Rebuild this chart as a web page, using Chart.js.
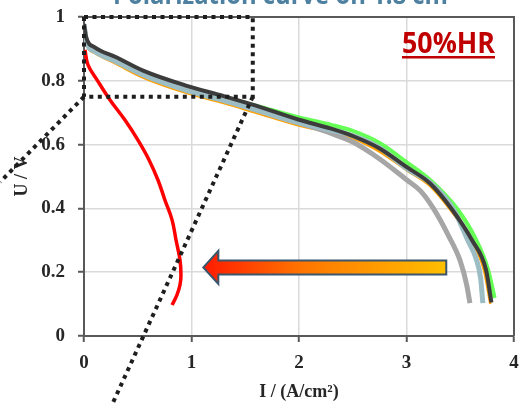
<!DOCTYPE html>
<html>
<head>
<meta charset="utf-8">
<script src="https://cdn.jsdelivr.net/npm/chart.js@4.4.1/dist/chart.umd.min.js"></script>
<style>
html, body { margin: 0; padding: 0; background: #fff; }
</style>
</head>
<body>
<canvas id="myChart" width="520" height="405"></canvas>
<script>
// current density (A/cm2) and cell voltage (V) for each run
const iDark = [0, 0.02, 0.1, 0.3, 0.55, 0.95, 1.3, 1.6, 2.0, 2.3, 2.5, 2.75, 3.0, 3.22, 3.42, 3.61, 3.74, 3.79];
const uDark = [0.978, 0.936, 0.905, 0.874, 0.832, 0.785, 0.752, 0.722, 0.678, 0.65, 0.627, 0.588, 0.53, 0.478, 0.398, 0.3, 0.207, 0.105];

const iGreen = [0, 0.02, 0.1, 0.3, 0.55, 0.95, 1.3, 1.6, 2.0, 2.3, 2.5, 2.75, 3.0, 3.22, 3.48, 3.65, 3.76, 3.82];
const uGreen = [0.975, 0.928, 0.895, 0.862, 0.82, 0.775, 0.748, 0.722, 0.685, 0.662, 0.643, 0.605, 0.545, 0.489, 0.395, 0.3, 0.207, 0.119];

const iBlue = [0, 0.02, 0.1, 0.3, 0.55, 0.95, 1.3, 1.6, 2.0, 2.3, 2.5, 2.75, 3.0, 3.24, 3.44, 3.57, 3.65, 3.69, 3.71];
const uBlue = [0.975, 0.925, 0.892, 0.86, 0.818, 0.77, 0.738, 0.708, 0.668, 0.645, 0.628, 0.59, 0.525, 0.475, 0.395, 0.3, 0.24, 0.18, 0.103];

const iOrange = [0, 0.02, 0.1, 0.3, 0.55, 0.95, 1.3, 1.6, 2.0, 2.3, 2.5, 2.75, 3.0, 3.22, 3.42, 3.6, 3.72, 3.78];
const uOrange = [0.975, 0.92, 0.887, 0.853, 0.81, 0.762, 0.73, 0.7, 0.66, 0.638, 0.62, 0.578, 0.52, 0.47, 0.39, 0.3, 0.207, 0.1];

const iGray = [0, 0.02, 0.1, 0.3, 0.55, 0.95, 1.3, 1.6, 2.0, 2.3, 2.5, 2.75, 3.0, 3.13, 3.25, 3.39, 3.5, 3.56, 3.59];
const uGray = [0.977, 0.93, 0.898, 0.864, 0.822, 0.774, 0.742, 0.71, 0.668, 0.635, 0.608, 0.555, 0.49, 0.455, 0.4, 0.315, 0.235, 0.16, 0.103];

const iRed = [0.009, 0.037, 0.121, 0.242, 0.381, 0.502, 0.605, 0.688, 0.753, 0.819, 0.856, 0.893, 0.902, 0.893, 0.865, 0.819];
const uRed = [0.897, 0.85, 0.803, 0.74, 0.677, 0.614, 0.552, 0.489, 0.426, 0.364, 0.301, 0.238, 0.191, 0.16, 0.129, 0.097];

// zoom box and its two guide lines, in (I, U)
const zoomBoxI = [0, 1.57];
const zoomBoxU = [0.75, 1.0];
const guideLeft = [[0, 0.75], [-0.78, 0.483]];
const guideRight = [[1.57, 0.75], [0.26, -0.216]];

// arrow from tail to tip, at this voltage
const arrowI = [3.37, 1.11];
const arrowU = 0.215;

const chartTitle = 'Polarization curve on 1.8 cm\u00b2';
const humidityLabel = '50%HR';

function toPoints(xs, ys) {
    var pts = [];
    for (var i = 0; i < xs.length; i++) {
        pts.push({ x: xs[i], y: ys[i] });
    }
    return pts;
}

function curve(xs, ys, color, width) {
    return {
        data: toPoints(xs, ys),
        borderColor: color,
        borderWidth: width,
        pointRadius: 0,
        cubicInterpolationMode: 'monotone',
        fill: false
    };
}

const extras = {
    id: 'extras',
    beforeDatasetsDraw(chart) {
        var c = chart.ctx, a = chart.chartArea;
        c.save();
        c.strokeStyle = '#595959';
        c.lineWidth = 2;
        c.beginPath();
        c.moveTo(a.left, a.top);
        c.lineTo(a.right, a.top);
        c.lineTo(a.right, a.bottom);
        c.stroke();
        c.restore();
    },
    afterDatasetsDraw(chart) {
        var c = chart.ctx;
        var sx = chart.scales.x, sy = chart.scales.y;
        c.save();

        // dotted zoom box
        c.strokeStyle = '#1e1e1e';
        c.lineWidth = 4;
        c.setLineDash([4, 4.5]);
        var x0 = sx.getPixelForValue(zoomBoxI[0]), x1 = sx.getPixelForValue(zoomBoxI[1]);
        var y0 = sy.getPixelForValue(zoomBoxU[1]), y1 = sy.getPixelForValue(zoomBoxU[0]);
        c.beginPath();
        c.moveTo(x0, y0); c.lineTo(x1, y0); c.lineTo(x1, y1); c.lineTo(x0, y1); c.closePath();
        c.stroke();
        [guideLeft, guideRight].forEach(function (g) {
            c.beginPath();
            c.moveTo(sx.getPixelForValue(g[0][0]), sy.getPixelForValue(g[0][1]));
            c.lineTo(sx.getPixelForValue(g[1][0]), sy.getPixelForValue(g[1][1]));
            c.stroke();
        });
        c.setLineDash([]);

        // block arrow
        var tail = sx.getPixelForValue(arrowI[0]), tip = sx.getPixelForValue(arrowI[1]);
        var mid = sy.getPixelForValue(arrowU);
        var bodyH = 7, headH = 16.5, headL = 15;
        var grad = c.createLinearGradient(tip, 0, tail, 0);
        grad.addColorStop(0, '#ff1a00');
        grad.addColorStop(0.4, '#ff7400');
        grad.addColorStop(1, '#ffc000');
        c.beginPath();
        c.moveTo(tip, mid);
        c.lineTo(tip + headL, mid - headH);
        c.lineTo(tip + headL, mid - bodyH);
        c.lineTo(tail, mid - bodyH);
        c.lineTo(tail, mid + bodyH);
        c.lineTo(tip + headL, mid + bodyH);
        c.lineTo(tip + headL, mid + headH);
        c.closePath();
        c.fillStyle = grad;
        c.fill();
        c.strokeStyle = '#3b566d';
        c.lineWidth = 2;
        c.stroke();

        // humidity tag
        c.fillStyle = '#c00000';
        c.font = 'bold 28px "Open Sans"';
        c.textBaseline = 'alphabetic';
        var w = c.measureText(humidityLabel).width;
        c.save();
        c.translate(402, 53);
        c.scale(93 / w, 1);
        c.fillText(humidityLabel, 0, 0);
        c.restore();
        c.fillRect(402, 56, 93, 2.5);

        // title, cut by the top edge
        c.fillStyle = '#4e80a0';
        c.font = 'bold 26px "Open Sans"';
        var tw = c.measureText(chartTitle).width;
        c.save();
        c.translate(113, 4);
        c.scale(344 / tw, 1);
        c.fillText(chartTitle, 0, 0);
        c.restore();

        c.restore();
    }
};

const tickFont = { family: 'Liberation Serif', size: 19, weight: 'bold', lineHeight: 1.2 };
const titleFont = { family: 'Liberation Serif', size: 18, weight: 'bold', lineHeight: 1.2 };

var red = curve(iRed, uRed, '#ff0000', 3.5);
red.cubicInterpolationMode = 'default';
red.tension = 0.4;

new Chart(document.getElementById('myChart'), {
    type: 'line',
    data: {
        datasets: [
            red,
            curve(iDark, uDark, '#3c3c3c', 4),
            curve(iBlue, uBlue, '#9dbdc5', 5),
            curve(iGray, uGray, '#a6a6a6', 5),
            curve(iGreen, uGreen, '#66ff55', 4),
            curve(iOrange, uOrange, '#ffa000', 2.5)
        ]
    },
    options: {
        responsive: false,
        animation: false,
        layout: { padding: { top: 17, right: 6, left: 0, bottom: 0 } },
        plugins: { legend: { display: false }, tooltip: { enabled: false } },
        scales: {
            x: {
                type: 'linear',
                min: 0,
                max: 4,
                ticks: { stepSize: 1, color: '#262626', font: tickFont, padding: 10 },
                grid: { color: '#dadada', lineWidth: 1.5, tickColor: '#595959', tickLength: 6, tickWidth: 2 },
                border: { color: '#595959', width: 2 },
                title: { display: true, text: 'I / (A/cm\u00b2)', color: '#262626', font: titleFont, padding: { top: 0, bottom: 2 } },
                afterFit: function (s) {
                    s.height = 69;
                    s.paddingLeft = 0;
                    s.paddingRight = 0;
                }
            },
            y: {
                min: 0,
                max: 1,
                ticks: {
                    stepSize: 0.2, color: '#262626', font: tickFont, padding: 13,
                    callback: function (v) { return String(Number(v.toFixed(1))); }
                },
                grid: { color: '#dadada', lineWidth: 1.5, tickColor: '#595959', tickLength: 6, tickWidth: 2 },
                border: { color: '#595959', width: 2 },
                title: { display: true, text: 'U / V', color: '#262626', font: titleFont, padding: { top: 12, bottom: 0 } },
                afterFit: function (s) {
                    s.width = 84;
                    s.paddingTop = 0;
                    s.paddingBottom = 0;
                }
            }
        }
    },
    plugins: [extras]
});
</script>
</body>
</html>
